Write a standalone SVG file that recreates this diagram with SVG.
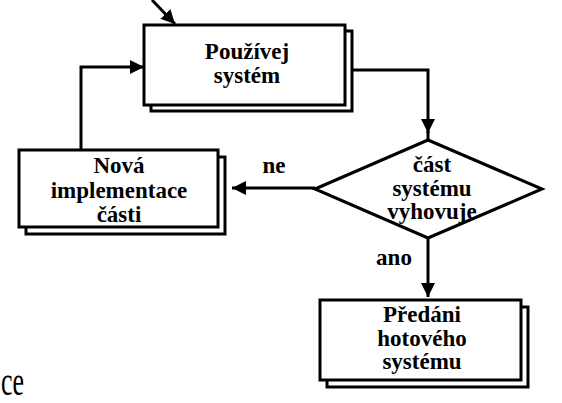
<svg xmlns="http://www.w3.org/2000/svg" width="562" height="403" viewBox="0 0 562 403">
<style>
.sh{fill:#fff;stroke:#000;stroke-width:3}
.bx{fill:#fff;stroke:#000;stroke-width:3}
.t{font-family:'Liberation Serif','Times New Roman',Times,'DejaVu Serif','Noto Serif',serif;font-weight:bold;font-size:23px;fill:#000;text-anchor:middle}
.c{fill:none;stroke:#000;stroke-width:3}
.big{font-family:'Liberation Serif','Times New Roman',Times,'DejaVu Serif',serif;font-size:42px;fill:#000}
</style>
<defs>
<marker id="ah" markerWidth="15" markerHeight="14" refX="14" refY="7" orient="auto" markerUnits="userSpaceOnUse">
<path d="M0,0 L14,7 L0,14 Z" fill="#000"/>
</marker>
</defs>
<rect width="562" height="403" fill="#fff"/>
<g id="connectors">
<path class="c" d="M152,0 L175,24" marker-end="url(#ah)"/>
<path class="c" d="M353,70 H428 V133" marker-end="url(#ah)"/>
<path class="c" d="M428,131 V140"/>
<path class="c" d="M315,188 H232" marker-end="url(#ah)"/>
<path class="c" d="M81,149 V67 H144" marker-end="url(#ah)"/>
<path class="c" d="M428,238 V297" marker-end="url(#ah)"/>
<text class="t" x="274" y="173">ne</text>
<text class="t" x="394" y="265">ano</text>
</g>
<g id="pouzivej">
<rect class="sh" x="151" y="31" width="201" height="80"/>
<rect class="bx" x="144" y="25" width="201" height="80"/>
<text class="t" x="247" y="59">Používej</text>
<text class="t" x="247" y="83">systém</text>
</g>
<g id="nova">
<rect class="sh" x="26" y="157" width="199" height="77"/>
<rect class="bx" x="19" y="150" width="199" height="77"/>
<text class="t" x="119" y="173">Nová</text>
<text class="t" x="119" y="198">implementace</text>
<text class="t" x="119" y="222">části</text>
</g>
<g id="rozhodnuti">
<polygon class="bx" points="315,189 428,140 542,189 428,238"/>
<text class="t" x="432" y="172">část</text>
<text class="t" x="432" y="196">systému</text>
<text class="t" x="432" y="219">vyhovuje</text>
</g>
<g id="predani">
<rect class="sh" x="327" y="307" width="201" height="80"/>
<rect class="bx" x="320" y="300" width="201" height="80"/>
<text class="t" x="422" y="322">Předáni</text>
<text class="t" x="422" y="346">hotového</text>
<text class="t" x="422" y="369">systému</text>
</g>
<text class="big" x="1" y="395" textLength="23" lengthAdjust="spacingAndGlyphs">ce</text>
</svg>
